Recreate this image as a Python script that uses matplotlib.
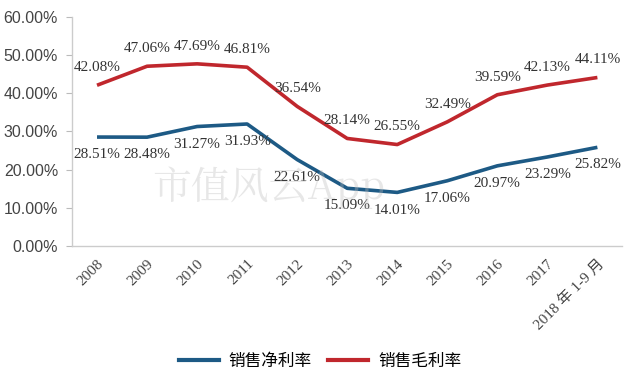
import matplotlib
matplotlib.use("Agg")
import matplotlib.pyplot as plt
from matplotlib.lines import Line2D

categories = ["2008", "2009", "2010", "2011", "2012", "2013", "2014", "2015", "2016", "2017", "2018 年 1-9 月"]
net_margin = [28.51, 28.48, 31.27, 31.93, 22.61, 15.09, 14.01, 17.06, 20.97, 23.29, 25.82]
gross_margin = [42.08, 47.06, 47.69, 46.81, 36.54, 28.14, 26.55, 32.49, 39.59, 42.13, 44.11]
series_names = ["销售净利率", "销售毛利率"]
yticks = [0, 10, 20, 30, 40, 50, 60]

plt.rcParams['font.family'] = ['Liberation Serif', 'Noto Sans CJK SC', 'DejaVu Sans']

blue = "#1d5a85"
red = "#c0272d"

fig = plt.figure(figsize=(6.4, 3.83), dpi=100)
ax = fig.add_axes([0.1125, 0.358, 0.86, 0.598])

x = list(range(len(categories)))
ax.plot(x, net_margin, color=blue, lw=2.6, solid_capstyle='butt', zorder=3)
ax.plot(x, gross_margin, color=red, lw=2.6, solid_capstyle='butt', zorder=3)

for xi, v in zip(x, gross_margin):
    ax.annotate(f"{v:.2f}%", (xi, v), xytext=(0, 8), textcoords='offset points',
                ha='center', va='bottom', fontsize=11, color='#333333', zorder=4)
for xi, v in zip(x, net_margin):
    ax.annotate(f"{v:.2f}%", (xi, v), xytext=(0, -8), textcoords='offset points',
                ha='center', va='top', fontsize=11, color='#333333', zorder=4)

ax.set_xlim(-0.5, len(categories) - 0.5)
ax.set_ylim(0, 60)
ax.set_yticks(yticks)
ax.set_yticklabels([f"{t:.2f}%" for t in yticks], fontsize=11.5, color='#444444',
                   family=['Liberation Sans'])
ax.set_xticks(x)
ax.set_xticklabels(categories, rotation=45, ha='right', va='top', rotation_mode='anchor',
                   fontsize=11, color='#444444', family=['Liberation Serif', 'Noto Sans CJK SC'])
ax.tick_params(axis='x', length=0, pad=8)
ax.tick_params(axis='y', length=4, color='#bbbbbb', pad=6)
for s in ['top', 'right']:
    ax.spines[s].set_visible(False)
for s in ['left', 'bottom']:
    ax.spines[s].set_color('#cccccc')
    ax.spines[s].set_linewidth(1.0)

# watermark
fig.text(0.42, 0.51, "市值风云App", fontsize=28, color='#bbbbbb', alpha=0.35,
         ha='center', va='center', family=['Noto Serif CJK SC', 'Noto Sans CJK SC'], zorder=0)

handles = [Line2D([0], [0], color=blue, lw=3), Line2D([0], [0], color=red, lw=3)]
fig.legend(handles, series_names, loc='center', bbox_to_anchor=(0.5, 0.057), ncol=2,
           frameon=False, handlelength=2.4, columnspacing=1.0, handletextpad=0.6,
           prop={'family': ['Noto Sans CJK SC'], 'size': 12})

fig.savefig("out.png", dpi=100)
